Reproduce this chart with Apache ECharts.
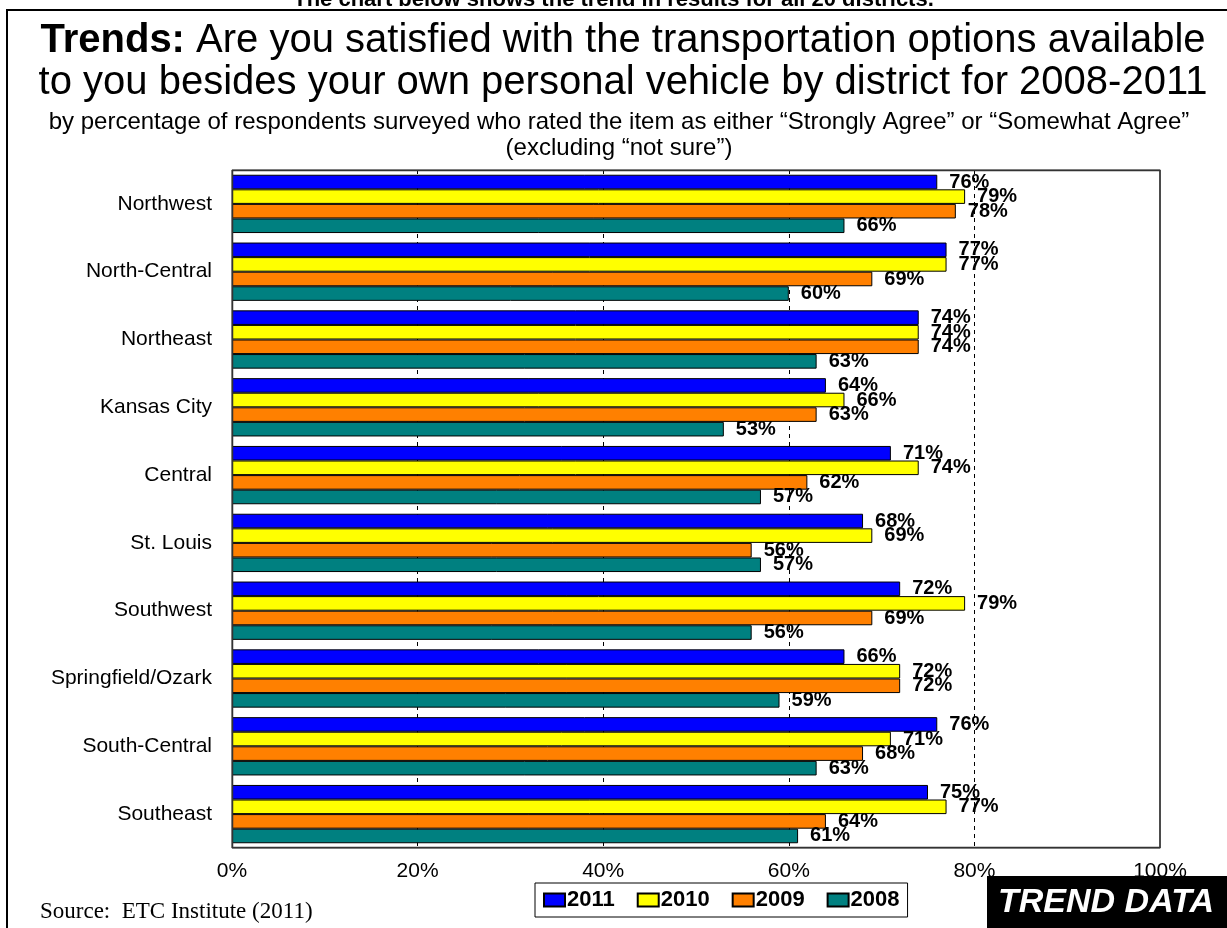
<!DOCTYPE html>
<html><head><meta charset="utf-8">
<script src="https://cdn.jsdelivr.net/npm/echarts@6/dist/echarts.min.js"></script>
<style>html,body{margin:0;padding:0;background:#fff}#c{width:1227px;height:928px}</style>
</head><body><div id="c"></div>
<script>
const categories = ['Northwest','North-Central','Northeast','Kansas City','Central','St. Louis','Southwest','Springfield/Ozark','South-Central','Southeast'];
const s2011 = [76,77,74,64,71,68,72,66,76,75];
const s2010 = [79,77,74,66,74,69,79,72,71,77];
const s2009 = [78,69,74,63,62,56,69,72,68,64];
const s2008 = [66,60,63,53,57,57,56,59,63,61];
const seriesNames = ['2011','2010','2009','2008'];
const seriesColors = ['#0000FF','#FFFF00','#FF8000','#008080'];
const seriesData = [s2011,s2010,s2009,s2008];

const chart = echarts.init(document.getElementById('c'));
const F = 'Arial, "Liberation Sans", sans-serif';
chart.setOption({
  animation:false,
  title:[
    {text:'The chart below shows the trend in results for all 20 districts.',left:'center',top:-16,textStyle:{fontFamily:F,fontSize:22,fontWeight:'bold',color:'#000'}},
    {text:'{b|Trends:} Are you satisfied with the transportation options available\nto you besides your own personal vehicle by district for 2008-2011',
     left:618,textAlign:'center',top:15,
     textStyle:{fontFamily:F,fontSize:40,fontWeight:'normal',color:'#000',lineHeight:42,
       rich:{b:{fontFamily:F,fontSize:40,fontWeight:'bold',color:'#000',lineHeight:42}}}},
    {text:'by percentage of respondents surveyed who rated the item as either \u201cStrongly Agree\u201d or \u201cSomewhat Agree\u201d\n(excluding \u201cnot sure\u201d)',
     left:614,textAlign:'center',top:104,
     textStyle:{fontFamily:F,fontSize:24,fontWeight:'normal',color:'#000',lineHeight:26}},
    {text:'Source:  ETC Institute (2011)',left:35,top:895,textStyle:{fontFamily:'"Liberation Serif", "Times New Roman", serif',fontSize:23,fontWeight:'normal',color:'#000'}}
  ],
  grid:{left:232,right:67,top:170,bottom:80,show:true,borderColor:'#333',borderWidth:1,backgroundColor:'#fff'},
  legend:{data:seriesNames,left:535,top:883,backgroundColor:'#fff',borderColor:'#000',borderWidth:1,padding:[6,8],
    itemWidth:21,itemHeight:13,itemGap:22,icon:'rect',
    textStyle:{fontFamily:F,fontSize:22,fontWeight:'bold',color:'#000',padding:[0,0,0,-3]}},
  xAxis:{type:'value',min:0,max:100,interval:20,
    axisLabel:{formatter:'{value}%',fontFamily:F,fontSize:21,color:'#000',margin:13},
    axisLine:{show:false},axisTick:{show:false},
    splitLine:{show:true,showMinLine:false,showMaxLine:false,lineStyle:{type:[4,4],color:'#000',width:1}}},
  yAxis:{type:'category',data:categories,inverse:true,
    axisLabel:{fontFamily:F,fontSize:21,color:'#000',margin:20},
    axisLine:{show:false},axisTick:{show:false}},
  series:seriesNames.map((n,i)=>({
    name:n,type:'bar',data:seriesData[i],barGap:'0%',barCategoryGap:'14%',
    itemStyle:{color:seriesColors[i],borderColor:'#000',borderWidth:1},
    label:{show:true,position:'right',distance:12,formatter:'{c}%',fontFamily:F,fontSize:20,fontWeight:'bold',color:'#000'}
  })),
  graphic:[
    {type:'rect',shape:{x:7,y:10,width:1230,height:930},style:{fill:'none',stroke:'#000',lineWidth:2},z:-1},
    {type:'rect',shape:{x:232.5,y:170.5,width:927.5,height:677},style:{fill:'none',stroke:'#333',lineWidth:1.5},z:50},
    {type:'rect',shape:{x:987,y:876,width:240,height:52},style:{fill:'#000'},z:100},
    {type:'text',x:1106,y:903,style:{text:'TREND DATA',fill:'#fff',font:'italic bold 34px Arial, "Liberation Sans", sans-serif',align:'center',verticalAlign:'middle'},z:101}
  ]
});
</script></body></html>
